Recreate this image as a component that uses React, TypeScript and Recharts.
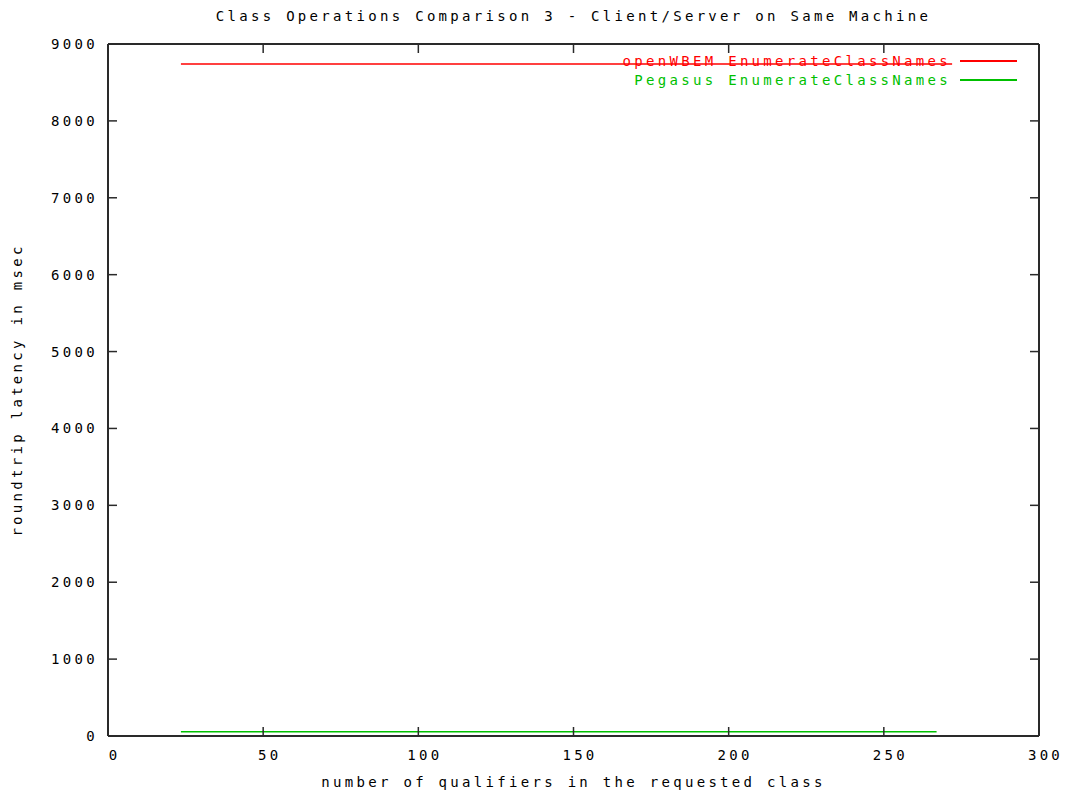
import React from 'react';
import { LineChart, Line, XAxis, YAxis, Legend } from 'recharts';

// Flat latency series (x = qualifiers in the requested class, y = msec)
const openWbemPoints = [
  { x: 23.5, y: 8740 },
  { x: 272, y: 8740 },
];
const pegasusPoints = [
  { x: 23.5, y: 56 },
  { x: 267, y: 56 },
];
const xTicks = [0, 50, 100, 150, 200, 250, 300];
const yTicks = [0, 1000, 2000, 3000, 4000, 5000, 6000, 7000, 8000, 9000];
const seriesNames = ['openWBEM EnumerateClassNames', 'Pegasus EnumerateClassNames'];
const seriesColors = ['#ff0000', '#00c000'];

const FONT = "'DejaVu Sans Mono', 'Liberation Mono', monospace";
const FS = 14;
const LS = '3.3px';
const AXIS = '#2a2a2a';
const TICK = 9;

const textStyle: React.CSSProperties = { fontFamily: FONT, fontSize: FS, letterSpacing: LS };

const LeftTick = (props: any) => {
  const { x, y, payload } = props;
  return (
    <g>
      <line x1={x} y1={y} x2={x + TICK} y2={y} stroke={AXIS} strokeWidth={1.5} />
      <text x={x - 10} y={y} dy="0.36em" textAnchor="end" fill="#000" style={textStyle}>
        {payload.value}
      </text>
    </g>
  );
};

const RightTick = (props: any) => {
  const { x, y } = props;
  return <line x1={x} y1={y} x2={x - TICK} y2={y} stroke={AXIS} strokeWidth={1.5} />;
};

const BottomTick = (props: any) => {
  const { x, y, payload } = props;
  return (
    <g>
      <line x1={x} y1={y} x2={x} y2={y - TICK} stroke={AXIS} strokeWidth={1.5} />
      <text x={x + 6.5} y={y + 24} textAnchor="middle" fill="#000" style={textStyle}>
        {payload.value}
      </text>
    </g>
  );
};

const TopTick = (props: any) => {
  const { x, y } = props;
  return <line x1={x} y1={y} x2={x} y2={y + TICK} stroke={AXIS} strokeWidth={1.5} />;
};

const YLabel = (props: any) => {
  const vb = props.viewBox || { x: 48, y: 44, width: 60, height: 692 };
  const cx = vb.x - 31;
  const cy = vb.y + vb.height / 2;
  return (
    <text
      x={cx}
      y={cy}
      transform={`rotate(-90, ${cx}, ${cy})`}
      textAnchor="middle"
      dominantBaseline="central"
      fill="#000"
      style={textStyle}
    >
      roundtrip latency in msec
    </text>
  );
};

const XLabel = (props: any) => {
  const vb = props.viewBox || { x: 108, y: 736, width: 931, height: 30 };
  return (
    <text x={vb.x + vb.width / 2} y={vb.y + 51} textAnchor="middle" fill="#000" style={textStyle}>
      number of qualifiers in the requested class
    </text>
  );
};

const renderLegend = (props: any) => {
  const payload = [...(props.payload || [])].sort(
    (a: any, b: any) => seriesNames.indexOf(a.value) - seriesNames.indexOf(b.value)
  );
  return (
    <div style={{ position: 'relative', width: 1069, height: 100 }}>
      {payload.map((p: any, i: number) => (
        <React.Fragment key={p.value}>
          <div
            style={{
              position: 'absolute',
              top: 52 + i * 19,
              right: 1069 - 951,
              fontFamily: FONT,
              fontSize: FS,
              letterSpacing: LS,
              lineHeight: '18px',
              color: p.color,
              whiteSpace: 'nowrap',
            }}
          >
            {p.value}
          </div>
          <div
            style={{
              position: 'absolute',
              left: 960,
              top: 60 + i * 19,
              width: 57,
              height: 1.5,
              background: p.color,
            }}
          />
        </React.Fragment>
      ))}
    </div>
  );
};

export default function App() {
  return (
    <div style={{ position: 'absolute', left: 0, top: 0, width: 1069, height: 795, background: '#fff' }}>
      <div
        style={{
          position: 'absolute',
          top: 7,
          left: 108,
          width: 931,
          textAlign: 'center',
          fontFamily: FONT,
          fontSize: FS,
          letterSpacing: LS,
          lineHeight: '18px',
          color: '#000',
          whiteSpace: 'nowrap',
        }}
      >
        Class Operations Comparison 3 - Client/Server on Same Machine
      </div>
      <LineChart width={1069} height={795} margin={{ top: 24, right: 10, bottom: 29, left: 48 }}>
        <XAxis
          xAxisId="b"
          type="number"
          dataKey="x"
          domain={[0, 300]}
          ticks={xTicks}
          allowDataOverflow
          orientation="bottom"
          height={30}
          tickSize={0}
          tickMargin={0}
          tickLine={false}
          axisLine={{ stroke: AXIS, strokeWidth: 2 }}
          tick={<BottomTick />}
          interval={0}
          label={<XLabel />}
        />
        <XAxis
          xAxisId="t"
          type="number"
          dataKey="x"
          domain={[0, 300]}
          ticks={xTicks}
          allowDataOverflow
          orientation="top"
          height={20}
          tickSize={0}
          tickMargin={0}
          tickLine={false}
          axisLine={{ stroke: AXIS, strokeWidth: 2 }}
          tick={<TopTick />}
          interval={0}
        />
        <YAxis
          yAxisId="l"
          type="number"
          domain={[0, 9000]}
          ticks={yTicks}
          allowDataOverflow
          orientation="left"
          width={60}
          tickSize={0}
          tickMargin={0}
          tickLine={false}
          axisLine={{ stroke: AXIS, strokeWidth: 2 }}
          tick={<LeftTick />}
          interval={0}
          label={<YLabel />}
        />
        <YAxis
          yAxisId="r"
          type="number"
          domain={[0, 9000]}
          ticks={yTicks}
          allowDataOverflow
          orientation="right"
          width={20}
          tickSize={0}
          tickMargin={0}
          tickLine={false}
          axisLine={{ stroke: AXIS, strokeWidth: 2 }}
          tick={<RightTick />}
          interval={0}
        />
        <Legend
          layout="vertical"
          align="center"
          verticalAlign="middle"
          content={renderLegend}
          wrapperStyle={{ position: 'absolute', top: 0, left: 0, width: 1069, height: 100, margin: 0 }}
        />
        <Line
          xAxisId="b"
          yAxisId="l"
          data={openWbemPoints}
          dataKey="y"
          name={seriesNames[0]}
          stroke={seriesColors[0]}
          strokeWidth={1.5}
          dot={false}
          activeDot={false}
          isAnimationActive={false}
        />
        <Line
          xAxisId="b"
          yAxisId="l"
          data={pegasusPoints}
          dataKey="y"
          name={seriesNames[1]}
          stroke={seriesColors[1]}
          strokeWidth={1.5}
          dot={false}
          activeDot={false}
          isAnimationActive={false}
        />
      </LineChart>
    </div>
  );
}
